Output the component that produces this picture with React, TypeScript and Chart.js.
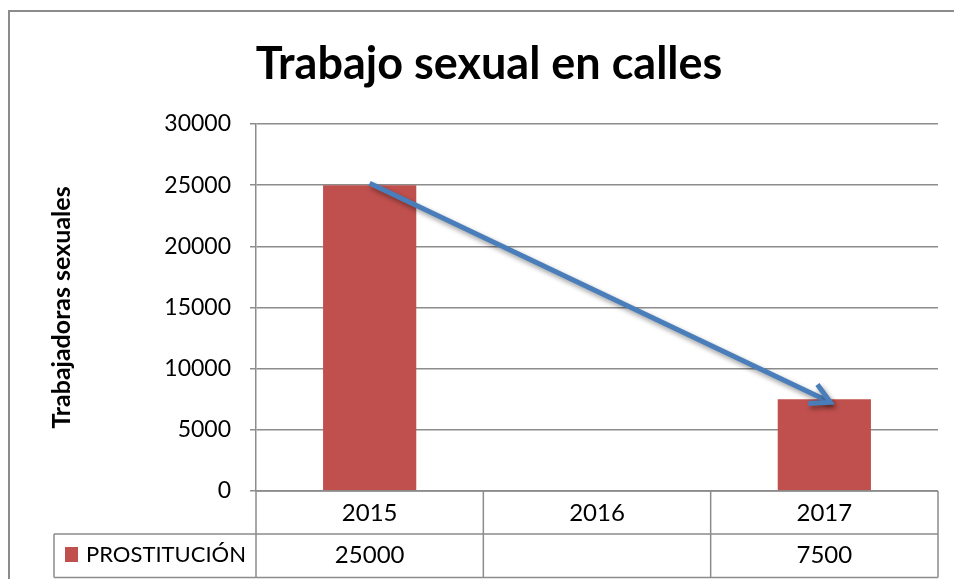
import React, { useEffect, useRef } from 'react';
import { Chart, registerables } from 'chart.js';

Chart.register(...registerables);

const TITLE = 'Trabajo sexual en calles';
const Y_TITLE = 'Trabajadoras sexuales';
const SERIES_NAME = 'PROSTITUCIÓN';
const CATEGORIES = ['2015', '2016', '2017'];
const VALUES: (number | null)[] = [25000, null, 7500];
const Y_MIN = 0;
const Y_MAX = 30000;
const Y_STEP = 5000;
const ARROW_FROM = { index: 0, value: 25000 };
const ARROW_TO = { index: 2, value: 7500 };

const FONT = 'Lato, "Open Sans", sans-serif';
const BAR_COLOR = '#C0504D';
const GRID_COLOR = '#8c8c8c';
const ARROW_COLOR = '#4A7EBB';

const decorPlugin = {
  id: 'decor',
  beforeDraw(chart: any) {
    const { ctx, chartArea: ca } = chart;
    ctx.save();
    ctx.fillStyle = '#ffffff';
    ctx.fillRect(0, 0, chart.width, chart.height);
    ctx.strokeStyle = GRID_COLOR;
    ctx.lineWidth = 2;
    ctx.strokeRect(9, 11, chart.width + 40, chart.height + 40);
    ctx.fillStyle = '#000';
    ctx.textAlign = 'center';
    ctx.textBaseline = 'middle';
    ctx.font = `bold 45px ${FONT}`;
    ctx.fillText(TITLE, 489, 64);
    ctx.translate(62, (ca.top + ca.bottom) / 2);
    ctx.rotate(-Math.PI / 2);
    ctx.font = `bold 25px ${FONT}`;
    ctx.fillText(Y_TITLE, 0, 0);
    ctx.restore();
  },
  afterDatasetsDraw(chart: any) {
    const { ctx, scales } = chart;
    const xs = scales.x;
    const ys = scales.y;
    const x0 = xs.getPixelForValue(ARROW_FROM.index);
    const y0 = ys.getPixelForValue(ARROW_FROM.value) - 2;
    const x1 = xs.getPixelForValue(ARROW_TO.index) + 6;
    const y1 = ys.getPixelForValue(ARROW_TO.value) + 3;
    const ang = Math.atan2(y1 - y0, x1 - x0);
    const head = 22;
    const spread = 0.5;
    ctx.save();
    ctx.shadowColor = 'rgba(0,0,0,0.4)';
    ctx.shadowBlur = 5;
    ctx.shadowOffsetX = 2;
    ctx.shadowOffsetY = 3;
    ctx.strokeStyle = ARROW_COLOR;
    ctx.lineWidth = 5;
    ctx.lineCap = 'butt';
    ctx.lineJoin = 'miter';
    ctx.beginPath();
    ctx.moveTo(x0, y0);
    ctx.lineTo(x1, y1);
    ctx.stroke();
    ctx.beginPath();
    ctx.moveTo(x1 - head * Math.cos(ang - spread), y1 - head * Math.sin(ang - spread));
    ctx.lineTo(x1, y1);
    ctx.lineTo(x1 - head * Math.cos(ang + spread), y1 - head * Math.sin(ang + spread));
    ctx.stroke();
    ctx.restore();
  },
  afterDraw(chart: any) {
    const { ctx, chartArea: ca, scales } = chart;
    const xs = scales.x;
    const half = (xs.getPixelForValue(1) - xs.getPixelForValue(0)) / 2;
    const left = ca.left;
    const right = ca.right;
    const top = ca.bottom;
    const mid = top + 43;
    const bottom = chart.height - 1.5;
    const legendLeft = 54;
    ctx.save();
    ctx.strokeStyle = GRID_COLOR;
    ctx.lineWidth = 1.5;
    ctx.beginPath();
    ctx.moveTo(left, top);
    ctx.lineTo(right, top);
    ctx.moveTo(legendLeft, mid);
    ctx.lineTo(right, mid);
    ctx.moveTo(legendLeft, bottom);
    ctx.lineTo(right, bottom);
    ctx.moveTo(legendLeft, mid);
    ctx.lineTo(legendLeft, bottom);
    ctx.moveTo(left, top);
    ctx.lineTo(left, bottom);
    CATEGORIES.forEach((_, i) => {
      const xr = xs.getPixelForValue(i) + half;
      ctx.moveTo(Math.min(xr, right), top);
      ctx.lineTo(Math.min(xr, right), bottom);
    });
    ctx.stroke();
    ctx.fillStyle = '#000';
    ctx.textAlign = 'center';
    ctx.textBaseline = 'middle';
    ctx.font = `24px ${FONT}`;
    CATEGORIES.forEach((c, i) => {
      const cx = xs.getPixelForValue(i);
      ctx.fillText(c, cx, top + 22);
      const v = VALUES[i];
      if (v !== null && v !== undefined) ctx.fillText(String(v), cx, mid + 21);
    });
    ctx.fillStyle = BAR_COLOR;
    ctx.fillRect(65, mid + 13, 13, 15);
    ctx.fillStyle = '#000';
    ctx.textAlign = 'left';
    ctx.font = `22px ${FONT}`;
    ctx.fillText(SERIES_NAME, 86, mid + 21);
    ctx.restore();
  },
};

export default function App() {
  const ref = useRef<HTMLCanvasElement | null>(null);
  useEffect(() => {
    if (!ref.current) return;
    const chart = new Chart(ref.current, {
      type: 'bar',
      data: {
        labels: CATEGORIES,
        datasets: [
          {
            label: SERIES_NAME,
            data: VALUES,
            backgroundColor: BAR_COLOR,
            borderWidth: 0,
            categoryPercentage: 1,
            barPercentage: 0.41,
          },
        ],
      },
      options: {
        responsive: false,
        animation: false,
        layout: { padding: { left: 0, top: 124, right: 16, bottom: 88 } },
        plugins: {
          legend: { display: false },
          title: { display: false },
          tooltip: { enabled: false },
        },
        scales: {
          x: { display: false, offset: true },
          y: {
            min: Y_MIN,
            max: Y_MAX,
            afterFit: (s: any) => {
              s.width = 256;
            },
            ticks: {
              stepSize: Y_STEP,
              color: '#000',
              padding: 19,
              font: { family: FONT, size: 23 },
              callback: (v: any) => String(v),
            },
            grid: {
              color: GRID_COLOR,
              lineWidth: 1.5,
              tickLength: 6,
              drawOnChartArea: true,
            },
            border: { color: GRID_COLOR, width: 1.5 },
          },
        },
      },
      plugins: [decorPlugin],
    });
    return () => chart.destroy();
  }, []);
  return (
    <div style={{ position: 'fixed', left: 0, top: 0, width: 954, height: 579 }}>
      <canvas ref={ref} width={954} height={579} style={{ display: 'block' }} />
    </div>
  );
}
